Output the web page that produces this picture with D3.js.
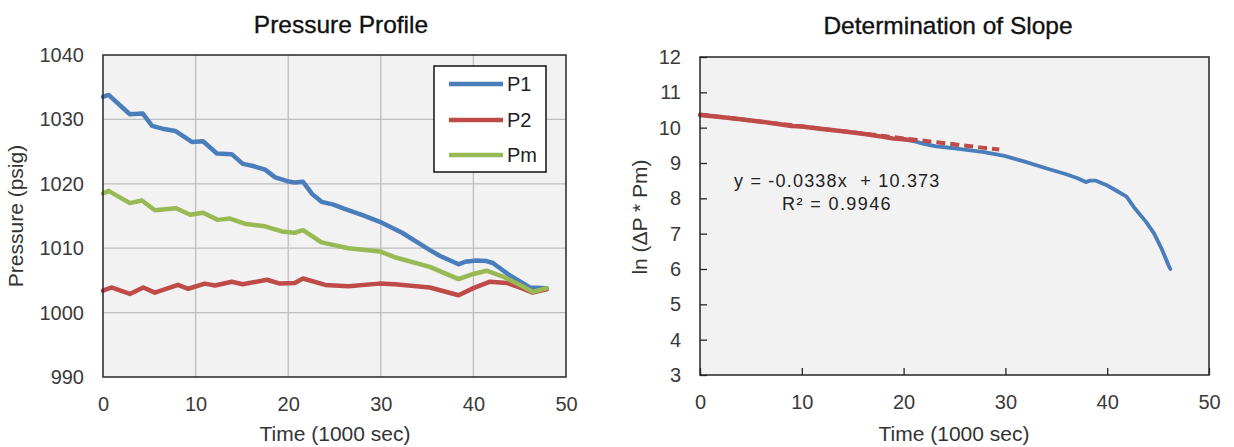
<!DOCTYPE html>
<html>
<head>
<meta charset="utf-8">
<script src="https://cdn.jsdelivr.net/npm/d3@7/dist/d3.min.js"></script>
<style>
  html, body { margin: 0; padding: 0; background: #fff; }
  svg { display: block; font-family: "Liberation Sans", Arial, sans-serif; }
</style>
</head>
<body>
<svg id="chart" width="1234" height="447"></svg>
<script>
// ---------- Data: Pressure Profile ----------
const p1Time = [0, 0.6, 2.9, 4.3, 5.3, 6.6, 7.8, 9.6, 10.8, 12.3, 13.9, 15.1, 16.1, 17.5, 18.6, 19.9, 20.7, 21.6, 22.6, 23.6, 24.8, 26.1, 28.1, 29.9, 32.3, 35.3, 36.4, 38.4, 39.1, 40.3, 41.4, 42.1, 43.9, 46.1, 47.9];
const p1Vals = [1033.5, 1033.8, 1030.8, 1030.9, 1029.0, 1028.5, 1028.2, 1026.5, 1026.6, 1024.7, 1024.6, 1023.1, 1022.8, 1022.2, 1021.0, 1020.4, 1020.2, 1020.3, 1018.4, 1017.2, 1016.8, 1016.1, 1015.1, 1014.1, 1012.4, 1009.7, 1008.8, 1007.5, 1007.9, 1008.1, 1008.0, 1007.7, 1005.8, 1003.9, 1003.8];

const p2Time = [0, 0.9, 2.9, 4.35, 5.6, 8.1, 9.2, 11, 12.1, 13.9, 15.1, 17.7, 19.1, 20.7, 21.6, 24, 26.5, 29.8, 31.5, 35.3, 38.4, 40, 41.8, 43.6, 45.2, 46.4, 47.9];
const p2Vals = [1003.4, 1003.9, 1002.9, 1003.9, 1003.1, 1004.3, 1003.7, 1004.5, 1004.2, 1004.8, 1004.4, 1005.1, 1004.5, 1004.6, 1005.3, 1004.3, 1004.1, 1004.5, 1004.4, 1003.9, 1002.7, 1003.8, 1004.8, 1004.6, 1003.8, 1003.1, 1003.6];

const pmTime = [0, 0.6, 2.9, 4.2, 5.6, 7.9, 9.4, 10.8, 12.4, 13.7, 15.3, 17.5, 19.3, 20.7, 21.6, 23.6, 26.5, 29.9, 31.5, 35.3, 38.4, 40, 41.4, 43.2, 45.4, 46.4, 47.9];
const pmVals = [1018.5, 1018.9, 1017.0, 1017.4, 1015.9, 1016.2, 1015.2, 1015.5, 1014.4, 1014.6, 1013.8, 1013.4, 1012.6, 1012.4, 1012.8, 1010.9, 1010.0, 1009.5, 1008.6, 1007.1, 1005.2, 1006.0, 1006.5, 1005.6, 1004.0, 1003.2, 1003.8];

const leftSeriesNames = ["P1", "P2", "Pm"];
const leftXTicks = [0, 10, 20, 30, 40, 50];
const leftYTicks = [990, 1000, 1010, 1020, 1030, 1040];

// ---------- Data: Determination of Slope ----------
const fitTime = [0, 2, 4, 6, 8, 9, 10, 12, 14, 16, 18, 19, 20, 21];
const fitVals = [10.36, 10.30, 10.24, 10.17, 10.09, 10.05, 10.03, 9.96, 9.90, 9.83, 9.74, 9.69, 9.67, 9.64];

const allTime = [20, 21, 22, 23.2, 25.2, 27.9, 29.9, 31.9, 33.9, 35.9, 37.1, 37.9, 38.3, 38.9, 39.9, 41.0, 41.9, 42.7, 43.8, 44.6, 45.4, 46.0, 46.2];
const allVals = [9.67, 9.62, 9.54, 9.47, 9.41, 9.31, 9.20, 9.04, 8.86, 8.69, 8.57, 8.46, 8.50, 8.50, 8.38, 8.20, 8.05, 7.72, 7.34, 7.01, 6.54, 6.12, 6.00];

const trendSlope = -0.0338;
const trendIntercept = 10.373;
const trendRange = [0, 29.4];
const trendLabel = ["y = -0.0338x  + 10.373", "R\u00B2 = 0.9946"];

const rightXTicks = [0, 10, 20, 30, 40, 50];
const rightYTicks = [3, 4, 5, 6, 7, 8, 9, 10, 11, 12];

// ---------- Styles ----------
const C_BLUE = "#4a7ebb", C_RED = "#be4b48", C_GREEN = "#98b954";
const PLOT_BG = "#f2f2f2", BORDER = "#262626", GRID = "#bdbdbd", TICK_TXT = "#3a3a3a";

const svg = d3.select("#chart");

// ================= LEFT CHART =================
const L = { x0: 103, x1: 566, y0: 55, y1: 377 };
const lx = d3.scaleLinear().domain([0, 50]).range([L.x0, L.x1]);
const ly = d3.scaleLinear().domain([990, 1040]).range([L.y1, L.y0]);

const left = svg.append("g");
left.append("rect").attr("x", L.x0).attr("y", L.y0)
  .attr("width", L.x1 - L.x0).attr("height", L.y1 - L.y0).attr("fill", PLOT_BG);

// gridlines
left.append("g").selectAll("line.v").data(leftXTicks.slice(1, -1)).join("line")
  .attr("x1", d => lx(d)).attr("x2", d => lx(d)).attr("y1", L.y0).attr("y2", L.y1)
  .attr("stroke", GRID).attr("stroke-width", 1.3);
left.append("g").selectAll("line.h").data(leftYTicks.slice(1, -1)).join("line")
  .attr("y1", d => ly(d)).attr("y2", d => ly(d)).attr("x1", L.x0).attr("x2", L.x1)
  .attr("stroke", GRID).attr("stroke-width", 1.3);

// axes
const lAxX = left.append("g").attr("transform", `translate(0,${L.y1})`)
  .call(d3.axisBottom(lx).tickValues(leftXTicks).tickSize(0).tickPadding(20));
const lAxY = left.append("g").attr("transform", `translate(${L.x0},0)`)
  .call(d3.axisLeft(ly).tickValues(leftYTicks).tickSize(0).tickPadding(19).tickFormat(d3.format("d")));
[lAxX, lAxY].forEach(a => {
  a.select(".domain").remove();
  a.selectAll("text").attr("font-size", 20).attr("fill", TICK_TXT)
    .attr("font-family", "Liberation Sans, Arial, sans-serif");
});

// lines
const lineL = (t, v) => d3.line().x((d, i) => lx(t[i])).y((d, i) => ly(v[i]))(v);
const leftSeries = [
  { name: leftSeriesNames[0], t: p1Time, v: p1Vals, c: C_BLUE },
  { name: leftSeriesNames[1], t: p2Time, v: p2Vals, c: C_RED },
  { name: leftSeriesNames[2], t: pmTime, v: pmVals, c: C_GREEN }
];
leftSeries.forEach(s => {
  left.append("path").attr("d", lineL(s.t, s.v)).attr("fill", "none")
    .attr("stroke", s.c).attr("stroke-width", 4.5).attr("stroke-linejoin", "round").attr("stroke-linecap", "round");
});

// border
left.append("rect").attr("x", L.x0).attr("y", L.y0)
  .attr("width", L.x1 - L.x0).attr("height", L.y1 - L.y0)
  .attr("fill", "none").attr("stroke", BORDER).attr("stroke-width", 1.5);

// legend
const lg = left.append("g");
lg.append("rect").attr("x", 434).attr("y", 66).attr("width", 112).attr("height", 106)
  .attr("fill", "#fff").attr("stroke", "#111").attr("stroke-width", 1.5);
const legY = [84, 120, 155];
leftSeries.forEach((s, i) => {
  lg.append("line").attr("x1", 449).attr("x2", 503).attr("y1", legY[i]).attr("y2", legY[i])
    .attr("stroke", s.c).attr("stroke-width", 4.5);
  lg.append("text").attr("x", 507).attr("y", legY[i]).attr("dy", "0.36em")
    .attr("font-size", 20).attr("fill", "#222").text(s.name);
});

// titles
left.append("text").attr("x", 341).attr("y", 33).attr("text-anchor", "middle")
  .attr("font-size", 24.5).attr("fill", "#111").attr("stroke", "#111").attr("stroke-width", 0.35)
  .text("Pressure Profile");
left.append("text").attr("x", 335).attr("y", 441).attr("text-anchor", "middle")
  .attr("font-size", 21).attr("fill", "#333").text("Time (1000 sec)");
left.append("text").attr("transform", "translate(23,216) rotate(-90)").attr("text-anchor", "middle")
  .attr("font-size", 21).attr("fill", "#333").text("Pressure (psig)");

// ================= RIGHT CHART =================
const R = { x0: 700, x1: 1209, y0: 57, y1: 375 };
const rx = d3.scaleLinear().domain([0, 50]).range([R.x0, R.x1]);
const ry = d3.scaleLinear().domain([3, 12]).range([R.y1, R.y0]);

const right = svg.append("g");
right.append("rect").attr("x", R.x0).attr("y", R.y0)
  .attr("width", R.x1 - R.x0).attr("height", R.y1 - R.y0).attr("fill", PLOT_BG);

const rAxX = right.append("g").attr("transform", `translate(0,${R.y1})`)
  .call(d3.axisBottom(rx).tickValues(rightXTicks).tickSizeInner(-7).tickSizeOuter(0).tickPadding(20));
const rAxY = right.append("g").attr("transform", `translate(${R.x0},0)`)
  .call(d3.axisLeft(ry).tickValues(rightYTicks).tickSizeInner(-7).tickSizeOuter(0).tickPadding(19));
[rAxX, rAxY].forEach(a => {
  a.select(".domain").remove();
  a.selectAll("line").attr("stroke", BORDER).attr("stroke-width", 1.3);
  a.selectAll("text").attr("font-size", 20).attr("fill", TICK_TXT)
    .attr("font-family", "Liberation Sans, Arial, sans-serif");
});

const lineR = (t, v) => d3.line().x((d, i) => rx(t[i])).y((d, i) => ry(v[i]))(v);
right.append("path").attr("d", lineR(allTime, allVals)).attr("fill", "none")
  .attr("stroke", C_BLUE).attr("stroke-width", 3.8).attr("stroke-linejoin", "round").attr("stroke-linecap", "round");
// trendline (dashed)
const trendV = trendRange.map(t => trendIntercept + trendSlope * t);
right.append("path").attr("d", lineR(trendRange, trendV)).attr("fill", "none")
  .attr("stroke", C_RED).attr("stroke-width", 4).attr("stroke-dasharray", "9,5");
right.append("path").attr("d", lineR(fitTime, fitVals)).attr("fill", "none")
  .attr("stroke", C_RED).attr("stroke-width", 4.5).attr("stroke-linejoin", "round").attr("stroke-linecap", "round");

right.append("rect").attr("x", R.x0).attr("y", R.y0)
  .attr("width", R.x1 - R.x0).attr("height", R.y1 - R.y0)
  .attr("fill", "none").attr("stroke", BORDER).attr("stroke-width", 1.5);

// trend label
right.append("text").attr("x", 734).attr("y", 187).attr("font-size", 18).attr("fill", "#222")
  .attr("letter-spacing", 1.2).style("white-space", "pre").text(trendLabel[0]);
right.append("text").attr("x", 782).attr("y", 210).attr("font-size", 18).attr("fill", "#222")
  .attr("letter-spacing", 1.4).style("white-space", "pre").text(trendLabel[1]);

// titles
right.append("text").attr("x", 948).attr("y", 34).attr("text-anchor", "middle")
  .attr("font-size", 24.5).attr("fill", "#111").attr("stroke", "#111").attr("stroke-width", 0.35)
  .text("Determination of Slope");
right.append("text").attr("x", 954).attr("y", 441).attr("text-anchor", "middle")
  .attr("font-size", 21).attr("fill", "#333").text("Time (1000 sec)");
right.append("text").attr("transform", "translate(647,217) rotate(-90)").attr("text-anchor", "middle")
  .attr("font-size", 21).attr("fill", "#333").text("ln (\u0394P * Pm)");
</script>
</body>
</html>
